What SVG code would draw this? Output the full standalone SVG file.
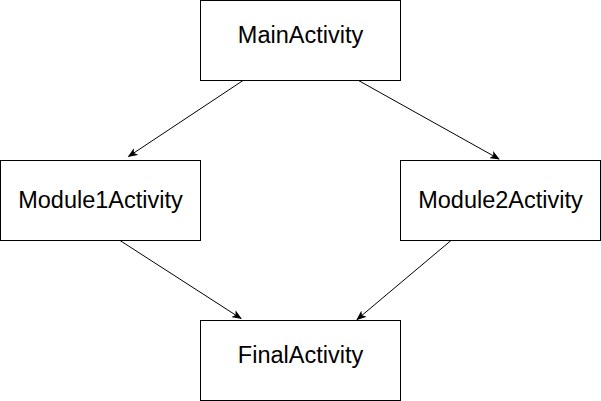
<svg xmlns="http://www.w3.org/2000/svg" width="601" height="401" viewBox="0 0 601 401">
<style>
.box{fill:#fff;stroke:#000;stroke-width:1}
.lbl{font-family:"Liberation Sans",Arial,sans-serif;font-size:23.5px;fill:#000;text-anchor:middle}
.edge{stroke:#000;stroke-width:1;fill:none;marker-end:url(#ah)}
</style>
<defs>
<marker id="ah" viewBox="0 0 10 8" refX="9" refY="4" markerWidth="10" markerHeight="8" markerUnits="userSpaceOnUse" orient="auto">
<path d="M0,0 L10,4 L0,8 L2.5,4 Z" fill="#000"/>
</marker>
</defs>
<g id="connectors">
<line class="edge" x1="243" y1="80.5" x2="128.5" y2="156.5"/>
<line class="edge" x1="358.5" y1="80.5" x2="499" y2="159"/>
<line class="edge" x1="120" y1="240.5" x2="241" y2="318.5"/>
<line class="edge" x1="451" y1="240.5" x2="357" y2="319.5"/>
</g>
<g id="main"><rect class="box" x="200.5" y="0.5" width="200" height="80"/><text class="lbl" x="300.5" y="43">MainActivity</text></g>
<g id="module1"><rect class="box" x="0.5" y="160.5" width="200" height="80"/><text class="lbl" x="100.5" y="208">Module1Activity</text></g>
<g id="module2"><rect class="box" x="400.5" y="160.5" width="200" height="80"/><text class="lbl" x="500.5" y="208">Module2Activity</text></g>
<g id="final"><rect class="box" x="200.5" y="320.5" width="200" height="80"/><text class="lbl" x="300.5" y="363">FinalActivity</text></g>
</svg>
